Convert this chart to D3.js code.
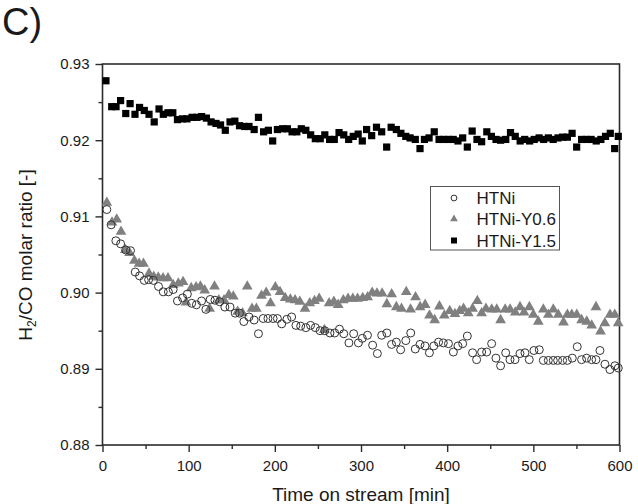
<!DOCTYPE html>
<html>
<head>
<meta charset="utf-8">
<script src="https://cdn.jsdelivr.net/npm/d3@7"></script>
<style>
  html, body { margin: 0; padding: 0; background: #fff; }
  svg { display: block; font-family: "Liberation Sans", Arial, sans-serif; }
</style>
</head>
<body>
<svg id="chart" width="638" height="504"></svg>
<script>
// ---- data ----
const seriesNames = ["HTNi", "HTNi-Y0.6", "HTNi-Y1.5"];

const htniT = [5,10,15.5,21,27,32.5,38,43,48.5,53.5,59,65,70.5,76.5,82,87,93,98.5,103.5,109,115,120,125,130.5,136,142,148,154,159,164,170,176,181,186.5,192,198,203,208,214,219.5,224.5,230,236,241.5,247,252.5,258,264,269.5,275,280,286,291.5,297,301.5,307.5,313.5,319,324,330,335.5,341,346,352,357.7,363,368.5,374.3,379.4,384.5,390,395.5,401.5,407.2,412.5,418,423.4,429.5,434.2,440,445.8,451.6,456.6,462,467.9,472.9,478.7,484.5,490.3,495.3,500.7,506.9,511.6,517.4,523.2,528.2,534,539.4,545.2,551,556,561.9,567.7,572.7,577.3,583.1,588.9,594.7,598.6];
const htniV = [.9109,.9089,.9068,.9064,.9056,.9055,.9027,.9022,.9016,.9017,.9016,.9008,.9001,.9001,.9004,.8989,.8993,.8998,.8986,.8984,.8989,.8978,.8991,.8990,.8988,.8981,.8981,.8973,.8973,.8962,.8968,.8964,.8946,.8966,.8966,.8966,.8966,.8959,.8965,.8968,.8957,.8956,.8954,.8957,.8954,.8950,.8950,.8947,.8947,.8952,.8946,.8934,.8946,.8934,.8940,.8944,.8931,.8920,.8944,.8947,.8932,.8935,.8925,.8937,.8947,.8926,.8932,.8930,.8921,.8930,.8935,.8934,.8933,.8922,.8930,.8933,.8943,.8921,.8912,.8922,.8922,.8933,.8914,.8904,.8921,.8912,.8912,.8920,.8921,.8912,.8924,.8925,.8911,.8911,.8911,.8911,.8911,.8911,.8914,.8929,.8912,.8914,.8912,.8912,.8924,.8906,.8899,.8904,.8901];

const y06T = [5,11,16.5,21.5,26.5,31.5,37,42.5,47.5,54,59.5,64.7,70.3,76,82,88,93.5,97,103,108.6,113.6,118.6,124.3,130,135,141,146.6,151.8,156.8,162.5,168,173.5,178.6,184.5,190,195,200.6,206,212,218,223.5,229,235,240.5,246,251.5,257.5,263,268.5,273.5,279.5,285,290.5,296,302,307.7,313,318.5,324.5,330,335.6,341,347,352.5,357.5,363.3,368.6,374.4,379.5,385.5,391,396.7,403,409,414.5,419,424.5,429.5,435,440,445,451.7,457.5,462,467.3,473,479,484.5,489.2,495.4,500,505.8,511.6,517.4,523.2,529,535,539.5,544.6,550.4,556,562,567.7,572.7,578,583,589,594.5,598.5];
const y06V = [.9118,.9092,.9096,.9080,.9056,.9052,.9042,.9038,.9038,.9025,.9021,.9020,.9019,.9019,.9010,.9012,.9014,.8987,.9006,.9007,.9008,.9003,.8979,.9008,.8990,.8990,.8997,.8995,.8975,.8973,.9008,.8979,.8979,.8996,.9000,.8986,.9007,.9001,.8993,.8991,.8990,.8988,.8979,.8986,.8989,.8992,.8951,.8986,.8988,.8984,.8990,.8992,.8992,.8992,.8993,.8994,.9000,.8999,.8999,.8985,.8998,.8981,.8979,.9001,.8978,.8994,.8981,.8984,.8970,.8964,.8982,.8970,.8976,.8972,.8976,.8979,.8973,.8979,.8989,.8973,.8979,.8978,.8978,.8964,.8978,.8978,.8974,.8981,.8974,.8981,.8971,.8962,.8978,.8971,.8978,.8971,.8961,.8971,.8971,.8971,.8964,.8962,.8957,.8981,.8949,.8960,.8971,.8971,.8960];

const y15T = [4,10.7,15.7,21,27,32,37.7,43,48.5,54,60,65.6,70.6,76,81.6,87,92.7,98,104,109.6,115,120.6,126,131.7,137,142.5,148,153.6,159,165,170,176,181,187,192.5,197.5,203,209,214.5,220,225.5,230.7,236,241.6,247,252.7,258,263.6,269,274.5,280,285.7,291,296.7,301.5,306.5,312.4,318,324,329.8,335,341,346.3,352,357,363,368.5,373.6,379,385,390.6,396,401.5,407,412.5,418,423.4,429,434.6,440,446,451.3,456.7,462,468,473.5,479,484.7,490,495.7,501,506.7,512,517.5,523,528.7,534,539.5,545,550.3,556,561.6,567,573,578.4,583.8,589.3,594.4,598.6];
const y15V = [.9278,.9244,.9244,.9252,.9235,.9248,.9234,.9243,.9239,.9234,.9224,.9241,.9234,.9236,.9236,.9227,.9228,.9228,.9230,.9230,.9231,.9229,.9224,.9222,.9220,.9213,.9224,.9225,.9219,.9218,.9218,.9214,.9230,.9211,.9213,.9199,.9214,.9215,.9215,.9211,.9211,.9215,.9213,.9207,.9202,.9202,.9207,.9201,.9201,.9210,.9207,.9201,.9205,.9208,.9199,.9214,.9206,.9217,.9211,.9191,.9217,.9214,.9209,.9205,.9203,.9201,.9189,.9201,.9203,.9211,.9201,.9201,.9201,.9201,.9199,.9203,.9191,.9212,.9201,.9198,.9211,.9205,.9201,.9200,.9201,.9210,.9205,.9199,.9201,.9199,.9201,.9203,.9201,.9203,.9201,.9203,.9204,.9204,.9209,.9191,.9201,.9201,.9201,.9199,.9201,.9205,.9209,.9189,.9205];

const xMajorTicks = [0, 100, 200, 300, 400, 500, 600];
const xMinorTicks = [50, 150, 250, 350, 450, 550];
const yMajorTicks = [0.88, 0.89, 0.90, 0.91, 0.92, 0.93];
const yMinorTicks = [0.885, 0.895, 0.905, 0.915, 0.925];

// ---- layout ----
const svg = d3.select("#chart");
const L = 102.5, R = 619.5, T = 64, B = 445;
const x = d3.scaleLinear().domain([0, 600]).range([L, R]);
const y = d3.scaleLinear().domain([0.88, 0.93]).range([B, T]);
const axisColor = "#2b2b2b";
const textColor = "#1a1a1a";

// panel label
svg.append("text").attr("x", 2).attr("y", 35)
  .attr("font-size", 38).attr("fill", textColor).text("C)");

// minor ticks
const gxMinor = svg.append("g").attr("transform", `translate(0,${B})`)
  .call(d3.axisBottom(x).tickValues(xMinorTicks).tickSize(4).tickSizeOuter(0).tickFormat(""));
const gyMinor = svg.append("g").attr("transform", `translate(${L},0)`)
  .call(d3.axisLeft(y).tickValues(yMinorTicks).tickSize(4).tickSizeOuter(0).tickFormat(""));

// major ticks
const gx = svg.append("g").attr("transform", `translate(0,${B})`)
  .call(d3.axisBottom(x).tickValues(xMajorTicks).tickSize(7).tickSizeOuter(0).tickPadding(8).tickFormat(d3.format("d")));
const gy = svg.append("g").attr("transform", `translate(${L},0)`)
  .call(d3.axisLeft(y).tickValues(yMajorTicks).tickSize(7).tickSizeOuter(0).tickPadding(6).tickFormat(d3.format(".2f")));

[gxMinor, gyMinor, gx, gy].forEach(g => {
  g.select(".domain").remove();
  g.selectAll(".tick line").attr("stroke", axisColor).attr("stroke-width", 1.4);
  g.selectAll(".tick text").attr("fill", textColor).attr("font-size", 15)
    .attr("font-family", "'Liberation Sans', Arial, sans-serif");
});

// frame
svg.append("rect").attr("x", L).attr("y", T).attr("width", R - L).attr("height", B - T)
  .attr("fill", "none").attr("stroke", axisColor).attr("stroke-width", 1.6);

// axis titles
svg.append("text").attr("x", (L + R) / 2).attr("y", 501).attr("text-anchor", "middle")
  .attr("font-size", 19).attr("fill", textColor).text("Time on stream [min]");

const yt = svg.append("text").attr("transform", "translate(31.5,255) rotate(-90)")
  .attr("text-anchor", "middle").attr("font-size", 19).attr("fill", textColor);
yt.append("tspan").text("H");
yt.append("tspan").attr("font-size", 12).attr("dy", 4).text("2");
yt.append("tspan").attr("dy", -4).text("/CO molar ratio [-]");

// data marks
const triPath = d3.symbol().type(d3.symbolTriangle).size(50)();
const sqPath = d3.symbol().type(d3.symbolSquare).size(52)();

const plot = svg.append("g");

plot.append("g").selectAll("path").data(d3.zip(y06T, y06V)).join("path")
  .attr("d", triPath)
  .attr("transform", d => `translate(${x(d[0])},${y(d[1])})`)
  .attr("fill", "#808080");

plot.append("g").selectAll("circle").data(d3.zip(htniT, htniV)).join("circle")
  .attr("cx", d => x(d[0])).attr("cy", d => y(d[1])).attr("r", 4)
  .attr("fill", "none").attr("stroke", "#333").attr("stroke-width", 1);

plot.append("g").selectAll("path").data(d3.zip(y15T, y15V)).join("path")
  .attr("d", sqPath)
  .attr("transform", d => `translate(${x(d[0])},${y(d[1])})`)
  .attr("fill", "#000");

// legend
const lg = svg.append("g");
lg.append("rect").attr("x", 430.5).attr("y", 186.5).attr("width", 129).attr("height", 63.5)
  .attr("fill", "#fff").attr("stroke", "#555").attr("stroke-width", 1);
const ly = [198, 219, 240.5];
lg.append("circle").attr("cx", 454).attr("cy", ly[0]).attr("r", 2.9)
  .attr("fill", "#fff").attr("stroke", "#333").attr("stroke-width", 1);
lg.append("path").attr("d", d3.symbol().type(d3.symbolTriangle).size(26)())
  .attr("transform", `translate(454,${ly[1]})`).attr("fill", "#808080");
lg.append("path").attr("d", d3.symbol().type(d3.symbolSquare).size(36)())
  .attr("transform", `translate(454,${ly[2]})`).attr("fill", "#000");
seriesNames.forEach((n, i) => {
  lg.append("text").attr("x", 476.5).attr("y", ly[i] + 6).attr("font-size", 17)
    .attr("fill", textColor).text(n);
});
</script>
</body>
</html>
